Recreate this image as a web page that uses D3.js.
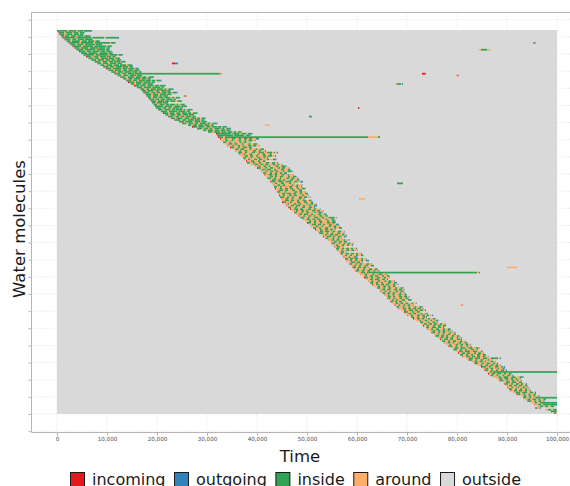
<!DOCTYPE html>
<html>
<head>
<meta charset="utf-8">
<script src="https://cdn.jsdelivr.net/npm/d3@7"></script>
<style>
body { margin: 0; background: #fff; }
svg { display: block; font-family: "DejaVu Sans", sans-serif; }
</style>
</head>
<body>
<div id="chart"></div>
<script>
(function() {
	var width = 570,
		height = 486;

	// legend order and colours
	var states = ["incoming", "outgoing", "inside", "around", "outside"];
	var stateColors = ["#e31a1c", "#3182bd", "#31a354", "#fdae6b", "#d9d9d9"];
	var stateCodes = { r: "incoming", b: "outgoing", g: "inside", a: "around", o: "outside" };

	var timeTicks = [0, 10000, 20000, 30000, 40000, 50000, 60000, 70000, 80000, 90000, 100000];
	var moleculeTicks = [-10, 0, 10, 20, 30, 40, 50, 60, 70, 80, 90, 100, 110, 120, 130, 140, 150, 160, 170, 180, 190, 200, 210, 220, 230];
	var timeEnd = 100000;

	// one string per water molecule, top to bottom:
	// entry time (x100), then states as letter + duration (x100)
	// r incoming, b outgoing, g inside, a around, o outside
	var molecules = [
		"0 g8b1g12a3g14a4g10a2g16", "3 r1g10a3g14a2g10a3g8b1", "5 r2g8a4g12a3g10a2g6b1", "8 g6a2g8a4g10a3g12a2g10b2",
		"11 r1g24a3g30a2g24a3g24b2", "15 r2g10a4g8a3g12a2g14b1", "19 g8a3g16a4g10a2g12a3g8b1", "23 r2g20a3g24a4g30a2g8b1o836r2b2",
		"27 g10a4g12a3g20a2g10b2", "31 r1g16a4g20a3g24a2g8b1", "35 r2g8a3g14a4g16a2g12a3g6b1", "39 g14a3g20a4g16a2g6b1o738a5g12a7",
		"44 r2g10a4g8a3g14a2g10a2g8b2", "48 g12a3g18a4g16a2g8b1", "53 r1g20a4g24a3g16a2g8b1", "58 r2g8a5g10a3g12a2g8a3g6b1",
		"63 g10a3g8a4g14a2g10a3g8b1", "69 r1g8a4g12a3g10a2g8a3g6b2", "75 g12a4g10a3g8a2g12a2g8b1", "81 r2g6a3g10a4g12a3g8b1o100r6b6",
		"87 g8a4g12a3g10a2g12a3g8b2", "92 r1g10a3g8a4g12a2g10a3g6b1", "98 r2g8a4g16a3g10a2g12a2g6b1", "103 g10a3g12a4g8a3g10a2g8b2",
		"109 r1g8a4g10a3g14a2g10a3g4b1", "115 r2g10a4g8a3g12a2g170a2b1o401r6b2", "121 g8a4g10a3g12a2g8b2o628a3r2", "127 r2g8a5g12a4g10a3g8a4g10b1",
		"133 g6a4g8a3g12a3g10a2g6b1", "138 r1g10a3g8a4g12a2g10a2g6a3g8b2", "142 r2g10a4g12a3g14a2g6b1", "148 g6a4g10a3g8a2g10b1o484a4g8a2b2",
		"154 r2g8a3g10a4g12a3g8a2g10b1", "160 g10a4g14a3g16a2g4b1", "166 r1g8a4g6a3g10a2g12a3g4a4g8b2", "170 g8a3g12a4g8a3g10a2g6b1",
		"173 r2g10a4g8a3g6a4g10a2g6a3g8b2", "177 g12a3g10a4g12a2g8b1", "179 r1g8a4g10a3g6a2g8b1o30a3g3a2", "182 g6a4g8a3g10a2g12a3g4a4g6b2",
		"185 r2g8a3g6a4g8a3g12a2g4b1", "188 g10a4g12a2g8a3g10a4g8b1", "190 r1g6a3g10a2g8b2", "193 g8a4g10a3g6a2g10a3g4a4g8b1",
		"196 r2g14a3g16a4g12a2g10b1", "198 g10a3g8a4g6a3g12a2g4b1o351r2b1", "202 r1g8a4g12a3g6a2g12a3g4a4g8b2", "208 g12a4g16a3g14a2g6b1",
		"212 r2g8a3g10a4g8a3g10a2g6a4g8b1", "217 g6a4g10a3g8a4g10a2g8b2", "222 r1g10a4g8a3g6a4g10a3g6b1o226g6", "228 g8a3g12a4g10a3g10a2g6a4g6b1",
		"235 r2g10a4g8a3g12a2g10a3g4b2", "244 g10a3g14a4g12a2g10b1", "250 r1g8a4g10a3g6a4g12a3g6a4g8b2", "262 g6a4g8a3g10a2g10a3g4b1o103a10",
		"270 r2g8a3g12a4g8a3g10a2g6a3g8b1", "280 g10a4g8a3g6a4g12a2g6a4g8b1", "292 r1g6a3g10a4g8a3g10a2g6b2", "302 g8a4g12a3g10a2g10a3g4a4g6b1",
		"318 r2g28a3g14a4g10a3g8b1", "320 g32a2g20a4g8b1", "322 r2g8a4g286a20g2b2", "326 r2a8g4a10g6a8g4a6g6a4g6a8g4b2",
		"329 a8g6a6g4a10g6a6g4a4g8a6b1", "332 r1g6a6g4a6g2a8g4a4g6a8b1", "337 a6g8a4g6a8g4a10g4a6g6b2", "341 r2a8g4a6g6a4g3a8g6a4g6a6b1",
		"346 r2g6a8g4a6g8a4g4b2", "351 a6g6a4g8a10g4a8g4a6g6b1", "356 r1a8g4a6g6a11g6a6g4a8b2", "362 g8a6g4a10g6a8g10a6g10a4g2a4b2",
		"365 r2a6g4a8g6a10g4a6g6a8g4b1", "368 a8g6a4g6a6g4a10g6a4g8a6b2", "372 r1g6a8g4a10g6a6g4a3b2", "375 r1a6g4a8g6a4g6a10g4a8g6b1",
		"378 r2a8g6a8g4a6g4b1", "380 g6a6g4a8g4a10g6a6g6a4b2", "388 r1a6g8a4g6a4g6a8g6a4g4a6b1", "395 a8g4a6g6a4g4a10g6a6g8b2",
		"400 r2g6a8g4a6g6a10g4a4g6a8b1", "404 a6g6a4g8a6g4a10g6a8g4b1", "408 r1a8g4a6g6a4g6a8g4a6g8b2", "412 g6a8g4a6g4a6g4a4g4b2",
		"415 r2a6g8a4g6a8g6a6g4a8b1", "418 a8g6a4g4a6g6a10g4a6g6b1", "421 r1g6a6g4a8g3a10g6a4g6a6b2", "424 a6g8a4g6a4g4a10g6a8g4b1",
		"427 r2g8a6g10a4g12a6g6a6b5", "430 a6g4a8g6a10g4a6b1o205g12", "432 r1a8g6a4g6a12g4a6g4a8b1", "434 g6a6g4a14g6a8g4a6b2",
		"436 r2a8g4a6g6a4g6a8g4a6g6b1", "438 a6g8a4g6a8g6a8g4b2", "440 r1g6a8g4a16g6a4g6a6b1", "442 a8g6a4g8a4g6a8g4a6g4b2",
		"444 r2a6g4a8g6a4g6a10g4a8b1", "446 g8a6g4a6g4a10g6a4g6a6b1", "448 r1a8g6a6g4a10g6a4b2o109a12", "450 a6g8a4g6a6g4a8g6a6g4b1",
		"450 r2g6a8g4a10g6a8g6a8g2b2", "455 a6g4a8g6a4g6a10g4a4g6a6b1", "459 r1a8g6a4g8a6g4a8g4a6g4b2", "462 g6a8g4a10g6a8g6a4b2",
		"466 r2a6g8a4g6a10g6a6g4a8b1", "470 a8g4a6g6a4g4a8g6a4g6a6b1", "474 r1g6a8g4a6g6a10g4a4g6b2", "478 a6g6a4g8a6g4a10g6a6g4b1",
		"483 r2a8g4a6g6a4g4a8g6a6g4b1", "487 g8a6g4a10g8a6g6a8g12a4b1", "492 r1a6g8a4g6a4g6a10g4a8g4b2", "496 a8g4a6g4a6g6a10g4a6g6b1",
		"500 r2g6a6g4a8g4a10g6a4g6b1", "504 a6g8a4g6a4g4a8g6a8g4b2", "508 r1a8g6a6g4a10g6a4g6a6b1", "512 g6a6g4a8g6a12g4a6g4b2",
		"516 r2a8g4a6g6a4g6a4b1", "520 a6g6a4g8a8g4a6g6a6b1", "524 r1g8a6g4a6g4a8g6a6b2", "528 a8g4a6g6a4g6a8g4a4b1",
		"532 r2a6g8a4g4a6g6a6g4b1", "537 g6a8g4a6g4a4b1", "542 r1a6g6a4g6a8g4a6b2", "546 a8g6a4g6a4g2b4",
		"549 r2g6a6g4a6g4a4g6a6b1", "552 a6g4a8g4a6g4a6b2", "555 r1a4g6a6b1", "558 g6a6g4a4g6a4g4a6b2",
		"561 r2a6g4a6g6a4g6a6b1", "564 a4g6a4b1", "567 r1g4a6g6a4g6a4g4a6b2", "570 a6g4a6g4a8g4a6g4b1",
		"573 r2a8g4a6g6b2", "576 g6a4g6a4g6a6g4a6b1", "579 r1a6g4a6g4a8g4a6g4b2", "582 a6g8a4g6a4b1",
		"585 r2g4a6g4a4g6a8g6a4b1", "588 a6g4a6g4a8g6a6g4b2", "591 r1g6a4g6a4g6a4b1o277a20", "594 a6g4a8g4a8g6a6g4b1",
		"597 r2g6a4g6a6g6a6g4a6b2", "602 a6g8a4g220a4b2", "606 r1a8g6a10g4a8g8a6g2a2b1", "610 a6g4a6g6a4g6a8g4a6g4b1",
		"614 r2g6a6g4a8g6a8g4a6b1", "618 a8g6a4g8a6g6a4b2", "622 r1a6g4a8g6a8g4a4g6a6b1", "626 g6a6g4a6g4a10g6a6g4b2",
		"630 r2a6g6a4g6a4g6a8g4a6b1", "634 a8g4a6g6a4g4a6g4b1", "640 r1g6a6g4a6g6a8g4a6g4b2", "644 a6g6a4g6a8g6a4g6a4b1",
		"647 r2a6g4a6g4a8g6a4g6b1", "651 g6a4g6a4g6a8g4a6b2", "654 r1a6g4a6g4a8g6a6g4b1", "658 a4g6a4g4a8g6a4g6a4b1",
		"661 r2g4a6g4a8g6a6g4b2", "664 a6g4a4g4a8g6a6g6b1", "667 r1g4a4g4a4g6a6b1", "671 a6g6a4g6a4g6a6g4a6b1",
		"675 r2a6g4a6g4a4g6a6b1o93a3r1", "679 g6a6g4a8g4a8g4a6g4b2", "683 r1a8g6a4g6a4g6a4g6a4b1", "688 a6g4a6g8a4g6a4g6a4b2",
		"694 r2g6a8g4a6g4b2", "697 a6g6a4g6a8g4a6g4b1", "701 r1a6g4a8g6a4g6a4g4a6b2", "708 g6a6g4a8g4a2b2",
		"712 r2a6g6a4g4a8g4a6g4b1", "717 a8g4a6g6a6g4a6g4b2", "726 r1g6a8g4a6g6a4b1", "728 a6g6a4g6a4g6a6g4a6b1",
		"732 r2a6g4a8g4a6g6a4g4b2", "738 g6a6g8a4g6a4b2", "741 r1a6g4a6g6a8g4a6g4b1", "745 a6g6a4g6a4g6a4g4a6b1",
		"749 r2g6a6g4a4g6a8g4a6b2", "753 a8g4a6g4a6g6a6g4b1", "757 r1g6a4g6a4g4a8g4a6g4b1", "761 a6g6a4g6a4g6a6g4a4b2",
		"766 r2a6g8a4g6a8g6a2b2", "770 g6a6g4a6g6a8g4a6b1", "774 r1a6g6a4g4a8g6a6g4b2", "779 a6g4a8g6a4g6a4g6a4b1",
		"783 r2g6a6g4a6g4a8g4a6b1", "789 a6g8a4g10a6g8a6g6a2b1", "793 r1g6a6g4a6g4a8g6a6b2", "798 a6g8a4g10a6g8a8g2b1",
		"802 r2a6g6a4g6a8g4a4g6a4b1", "806 g6a6g4a6g4a8g6a6g4b2", "811 r1a6g8a4g6a4g6a6g4a6b1", "818 a6g8a4g10a6g8a8g14a4b2",
		"823 r2g6a6g4a6g6a8g4a6b1", "829 a6g6a4g6a4g4a8g6a4b1", "835 r1g6a8g4a6g6a6g4a4b2", "841 a6g4a6g6a4g6a4g6a4b1",
		"848 r2g8a6g4a8g6a6g4a2b2", "851 a6g6a4g6a8g4a6g4b1", "855 r1g6a6g4a6g4a6g6a4b2", "860 a6g4a2g128",
		"862 r2a6g6a4g8a6g4a6g4b1", "867 g6a6g4a8g4a6g6a4b2", "874 r1a8g6a4g10a6g8a8g6b2", "879 a6g6a4g8a4g6a4g4a6b1",
		"885 r2g6a6g4a6g6a4g4a6b1", "892 a6g8a4g8a6g4b2", "895 r1g6a6g4a6g6a4g4a6b2", "898 a6g6a4g6a4g6a6g4b1",
		"901 r2a6g4a8g4a6g6a4b2", "904 g6a6g4a6g4a6g4a4b1", "907 r1a6g6a4g6a6g4a6b2", "912 a6g8a4g10a6g6a4b2",
		"919 r2g6a6g4a6g4a6g4b1", "927 a6g6a4g6a4g4a6b2", "932 r1g6a6g4a8g43", "935 a6g6a4g8a4g4a6g4b1",
		"941 r2g6a6g4a4g6a4b2", "950 a6g4a6g34", "955 r1a6g6a4g28", "960 a6g6a4g6a6g4b2",
		"956 r1g4a4g2b1", "976 a6g6a4g6b1", "988 r2g10", "994 r1g3a2"
	];

	var n = molecules.length;

	// turn the strings into segments
	var segments = [];
	molecules.forEach(function(m, i) {
		var parts = m.split(" ");
		var t = +parts[0] * 100;
		var re = /([rbgao])(\d+)/g, hit;
		while ((hit = re.exec(parts[1])) !== null) {
			var t1 = Math.min(timeEnd, t + (+hit[2]) * 100);
			if (hit[1] !== "o") {
				segments.push({ row: i, state: stateCodes[hit[1]], t0: t, t1: t1 });
			}
			t = t1;
		}
	});

	var color = d3.scaleOrdinal().domain(states).range(stateColors);

	var x = d3.scaleLinear().domain([-5000, 105000]).range([32, 582]);
	// molecule value: top molecule = n, bottom = 0 (ggplot style, y up)
	var y = d3.scaleLinear().domain([-10.5, n + 10.5]).range([432, 12]);

	var svg = d3.select("#chart")
		.append("svg")
		.attr("width", width)
		.attr("height", height);

	var panelLeft = 31.5, panelTop = 12.5, panelBottom = 432.5, panelRight = width;

	// grid
	svg.append("g")
		.selectAll("line")
		.data(timeTicks)
		.enter().append("line")
		.attr("x1", function(d) { return x(d); })
		.attr("x2", function(d) { return x(d); })
		.attr("y1", panelTop)
		.attr("y2", panelBottom)
		.attr("stroke", "#dcdcdc")
		.attr("stroke-width", 0.6)
		.attr("stroke-dasharray", "1.5,1.5");

	svg.append("g")
		.selectAll("line")
		.data(moleculeTicks)
		.enter().append("line")
		.attr("x1", panelLeft)
		.attr("x2", panelRight)
		.attr("y1", function(d) { return y(d); })
		.attr("y2", function(d) { return y(d); })
		.attr("stroke", "#dcdcdc")
		.attr("stroke-width", 0.6)
		.attr("stroke-dasharray", "1.5,1.5");

	// everything is "outside" unless a segment says otherwise
	svg.append("rect")
		.attr("x", x(0))
		.attr("y", y(n))
		.attr("width", x(timeEnd) - x(0))
		.attr("height", y(0) - y(n))
		.attr("fill", color("outside"));

	svg.append("g")
		.selectAll("rect")
		.data(segments)
		.enter().append("rect")
		.attr("x", function(d) { return x(d.t0); })
		.attr("width", function(d) { return Math.max(0.5, x(d.t1) - x(d.t0)); })
		.attr("y", function(d) { return y(n - d.row); })
		.attr("height", function(d) { return y(n - d.row - 1) - y(n - d.row); })
		.attr("fill", function(d) { return color(d.state); });

	// axes
	var xAxis = svg.append("g")
		.attr("transform", "translate(0," + panelBottom + ")")
		.call(d3.axisBottom(x).tickValues(timeTicks).tickFormat(d3.format(",")).tickSize(3).tickPadding(2));
	xAxis.select(".domain").remove();
	xAxis.selectAll("line").attr("stroke", "#b5b5b5");
	xAxis.selectAll("text").attr("font-size", "5.6px").attr("fill", "#4d4d4d")
		.attr("font-family", "'DejaVu Sans', sans-serif");

	var yAxis = svg.append("g")
		.attr("transform", "translate(" + panelLeft + ",0)")
		.call(d3.axisLeft(y).tickValues(moleculeTicks).tickFormat("").tickSize(3));
	yAxis.select(".domain").remove();
	yAxis.selectAll("line").attr("stroke", "#b5b5b5");

	// panel border (left, top, bottom)
	svg.append("path")
		.attr("d", "M" + panelRight + "," + panelTop + "H" + panelLeft + "V" + panelBottom + "H" + panelRight)
		.attr("fill", "none")
		.attr("stroke", "#b5b5b5")
		.attr("stroke-width", 1);

	// titles
	svg.append("text")
		.attr("x", 300)
		.attr("y", 462)
		.attr("text-anchor", "middle")
		.attr("font-size", "16.5px")
		.attr("fill", "#1a1a1a")
		.text("Time");

	svg.append("text")
		.attr("transform", "translate(25,229) rotate(-90)")
		.attr("text-anchor", "middle")
		.attr("font-size", "16.5px")
		.attr("fill", "#1a1a1a")
		.text("Water molecules");

	// legend
	var legend = svg.append("g");
	var lx = 70;
	states.forEach(function(s) {
		legend.append("rect")
			.attr("x", lx + 0.5)
			.attr("y", 472.5)
			.attr("width", 14)
			.attr("height", 16)
			.attr("fill", color(s))
			.attr("stroke", "#1a1a1a")
			.attr("stroke-width", 1);
		var t = legend.append("text")
			.attr("x", lx + 22)
			.attr("y", 484.5)
			.attr("font-size", "16px")
			.attr("fill", "#1a1a1a")
			.text(s);
		lx = lx + 22 + t.node().getComputedTextLength() + 8.5;
	});
})();
</script>
</body>
</html>
